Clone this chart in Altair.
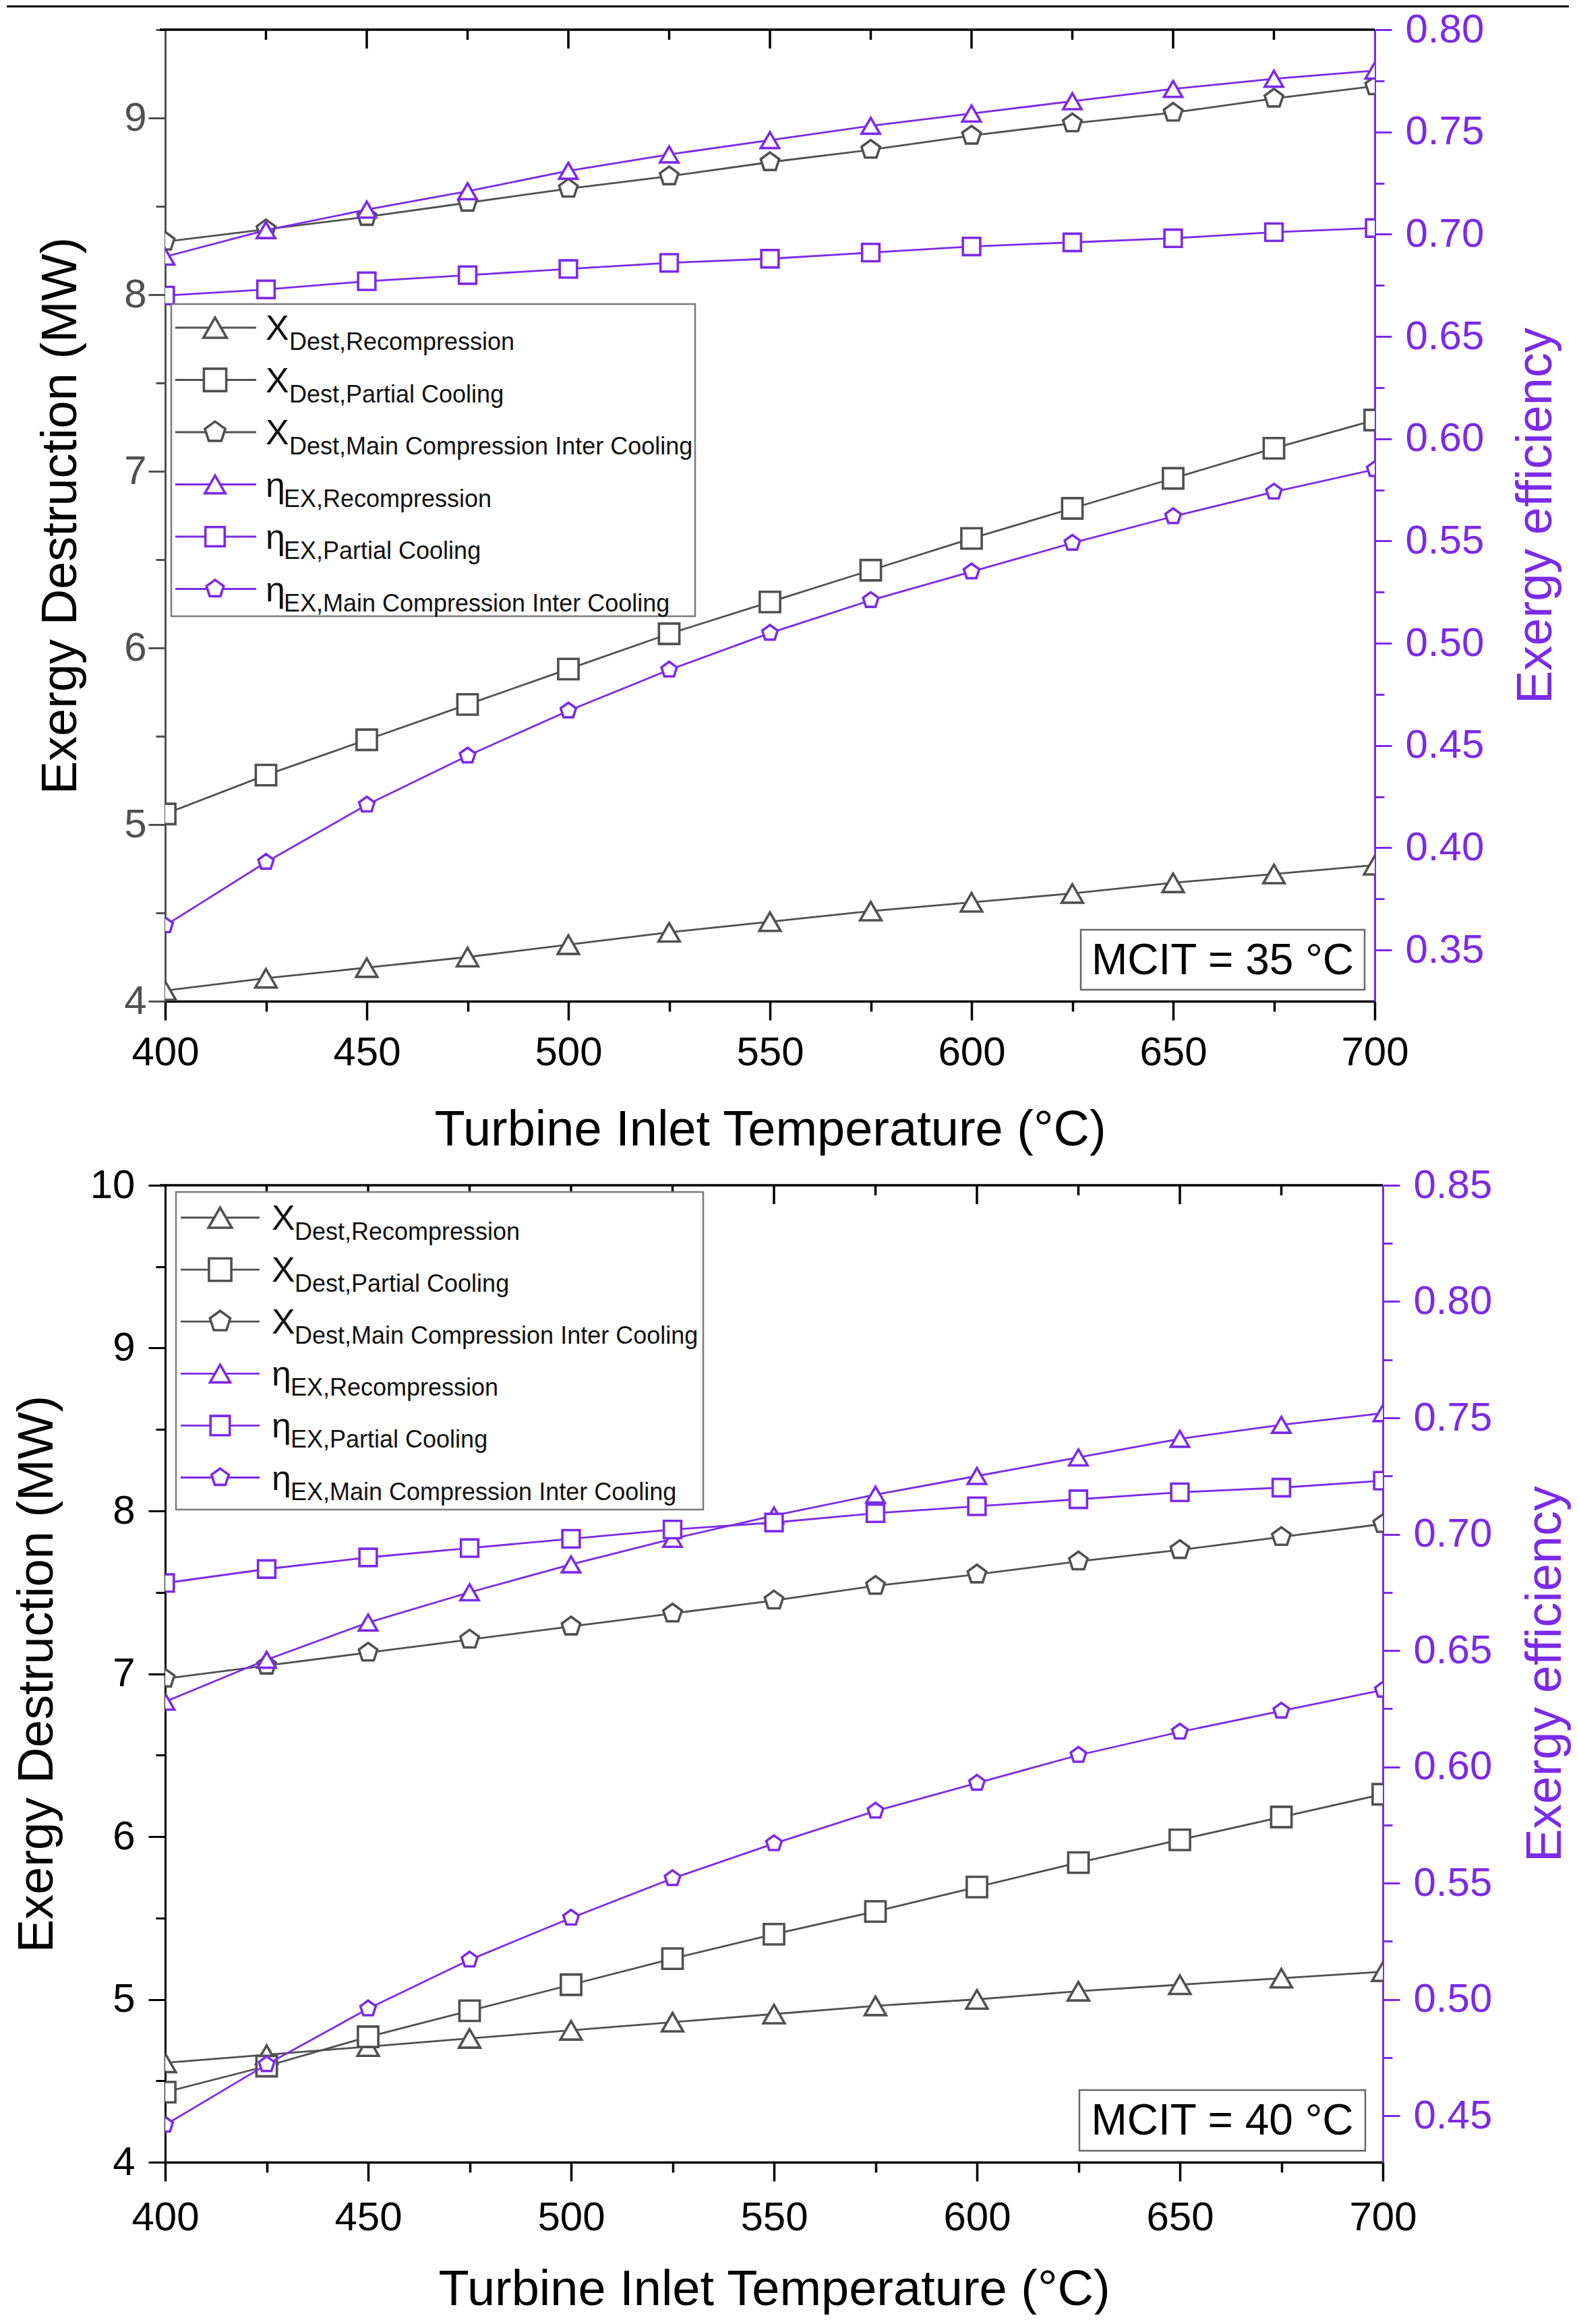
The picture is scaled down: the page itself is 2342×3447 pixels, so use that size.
import altair as alt
import pandas as pd

# ---------------- data ----------------
TIT = [400, 425, 450, 475, 500, 525, 550, 575, 600, 625, 650, 675, 700]

KEYS = ["XR", "XP", "XM", "ER", "EP", "EM"]
SIDES = ["L", "L", "L", "R", "R", "R"]
LEG_MAIN = ["X", "X", "X", "η", "η", "η"]
LEG_SUB = ["Dest,Recompression", "Dest,Partial Cooling", "Dest,Main Compression Inter Cooling",
           "EX,Recompression", "EX,Partial Cooling", "EX,Main Compression Inter Cooling"]
MCIT_LABELS = ["MCIT = 35 °C", "MCIT = 40 °C"]

# MCIT = 35 °C
A_X_RECOMP = [4.06, 4.13, 4.19, 4.25, 4.32, 4.39, 4.45, 4.51, 4.56, 4.61, 4.67, 4.72, 4.77]
A_X_PARTIAL = [5.06, 5.28, 5.48, 5.68, 5.88, 6.08, 6.26, 6.44, 6.62, 6.79, 6.96, 7.13, 7.29]
A_X_MCIC = [8.30, 8.37, 8.44, 8.52, 8.60, 8.67, 8.75, 8.82, 8.90, 8.97, 9.03, 9.11, 9.18]
A_ETA_RECOMP = [0.689, 0.702, 0.712, 0.721, 0.731, 0.739, 0.746, 0.753, 0.759, 0.765, 0.771, 0.776, 0.780]
A_ETA_PARTIAL = [0.670, 0.673, 0.677, 0.680, 0.683, 0.686, 0.688, 0.691, 0.694, 0.696, 0.698, 0.701, 0.703]
A_ETA_MCIC = [0.362, 0.393, 0.421, 0.445, 0.467, 0.487, 0.505, 0.521, 0.535, 0.549, 0.562, 0.574, 0.585]

# MCIT = 40 °C
B_X_RECOMP = [4.61, 4.66, 4.71, 4.76, 4.81, 4.86, 4.91, 4.96, 5.00, 5.05, 5.09, 5.13, 5.17]
B_X_PARTIAL = [4.43, 4.59, 4.77, 4.93, 5.09, 5.25, 5.40, 5.54, 5.69, 5.84, 5.98, 6.12, 6.26]
B_X_MCIC = [6.97, 7.05, 7.13, 7.21, 7.29, 7.37, 7.45, 7.54, 7.61, 7.69, 7.76, 7.84, 7.92]
B_ETA_RECOMP = [0.628, 0.646, 0.662, 0.675, 0.687, 0.698, 0.708, 0.717, 0.725, 0.733, 0.741, 0.747, 0.752]
B_ETA_PARTIAL = [0.679, 0.685, 0.690, 0.694, 0.698, 0.702, 0.705, 0.709, 0.712, 0.715, 0.718, 0.720, 0.723]
B_ETA_MCIC = [0.446, 0.472, 0.496, 0.517, 0.535, 0.552, 0.567, 0.581, 0.593, 0.605, 0.615, 0.624, 0.633]

# axis tick values
A_LEFT_TICKS = [4, 4.5, 5, 5.5, 6, 6.5, 7, 7.5, 8, 8.5, 9, 9.5]
B_LEFT_TICKS = [4, 4.5, 5, 5.5, 6, 6.5, 7, 7.5, 8, 8.5, 9, 9.5, 10]
A_RIGHT_TICKS = [0.35, 0.375, 0.4, 0.425, 0.45, 0.475, 0.5, 0.525, 0.55, 0.575, 0.6,
                 0.625, 0.65, 0.675, 0.7, 0.725, 0.75, 0.775, 0.8]
B_RIGHT_TICKS = [0.45, 0.475, 0.5, 0.525, 0.55, 0.575, 0.6, 0.625, 0.65, 0.675, 0.7,
                 0.725, 0.75, 0.775, 0.8, 0.825, 0.85]
TOP_TICKS = [425, 450, 475, 500, 525, 550, 575, 600, 625, 650, 675]

# ---------------- style ----------------
FONT = "Liberation Sans"
PURPLE = "#7C2AE8"
GRAY = "#505050"
BLACK = "#000000"
PENTAGON = "M0,-1L0.951,-0.309L0.588,0.809L-0.588,0.809L-0.951,-0.309Z"
SHAPES = ["triangle-up", "square", PENTAGON] * 2
SIZES = [1000, 576, 1100] * 2
LEG_SIZES = [1200, 720, 1150] * 2
MSW = 3.6   # marker stroke width
LSW = 2.8   # line stroke width


def long_df(series):
    rows = []
    for k, side, vals in zip(KEYS, SIDES, series):
        for t, v in zip(TIT, vals):
            rows.append({"tit": t, "value": v, "key": k, "side": side})
    return pd.DataFrame(rows)


ONE = pd.DataFrame({"k": [0]})


def panel(series, mcit_text, L, top_line=False):
    W, H = L["W"], L["H"]
    df = long_df(series)
    colors = [L["col"]] * 3 + [PURPLE] * 3
    stroke_enc = alt.Stroke("key:N", scale=alt.Scale(domain=KEYS, range=colors), legend=None)
    shape_enc = alt.Shape("key:N", scale=alt.Scale(domain=KEYS, range=SHAPES), legend=None)
    size_enc = alt.Size("key:N", scale=alt.Scale(domain=KEYS, range=SIZES), legend=None)

    x_enc = alt.X(
        "tit:Q", title="Turbine Inlet Temperature (°C)",
        scale=alt.Scale(domain=[400, 700], nice=False, zero=False),
        axis=alt.Axis(
            values=TIT, format="d",
            labelExpr="datum.value % 50 === 0 ? datum.label : ''",
            tickSize={"condition": {"test": "datum.value % 50 !== 0", "value": 15}, "value": 28},
            tickWidth=3.5, tickColor=BLACK, domainColor=BLACK, domainWidth=3.5,
            labelColor=BLACK, labelFont=FONT, labelFontSize=60, labelPadding=L["xpad"],
            labelFlush=False, labelOverlap=False,
            titleFont=FONT, titleFontSize=74, titleFontWeight="normal", titleColor=BLACK,
            titlePadding=L["xtpad"], grid=False,
        ),
    )
    left_y = alt.Y(
        "value:Q", title="Exergy Destruction (MW)",
        scale=alt.Scale(domain=L["ldom"], nice=False, zero=False),
        axis=alt.Axis(
            orient="left", values=L["lticks"],
            labelExpr="datum.value % 1 === 0 ? format(datum.value, 'd') : ''",
            tickSize={"condition": {"test": "datum.value % 1 !== 0", "value": 14}, "value": 25},
            tickWidth=3, tickColor=L["col"], domainColor=L["col"], domainWidth=3,
            labelColor=L["col"], labelFont=FONT, labelFontSize=60, labelPadding=L["lpad"],
            labelOverlap=False, labelFlush=False,
            titleFont=FONT, titleFontSize=74, titleFontWeight="normal", titleColor=BLACK,
            titlePadding=L["ltpad"], grid=False,
        ),
    )
    right_y = alt.Y(
        "value:Q", title="Exergy efficiency",
        scale=alt.Scale(domain=L["rdom"], nice=False, zero=False),
        axis=alt.Axis(
            orient="right", values=L["rticks"],
            labelExpr="round(datum.value * 1000) % 50 === 0 ? format(datum.value, '.2f') : ''",
            tickSize={"condition": {"test": "round(datum.value * 1000) % 50 !== 0", "value": 14}, "value": 25},
            tickWidth=3, tickColor=PURPLE, domainColor=PURPLE, domainWidth=3,
            labelColor=PURPLE, labelFont=FONT, labelFontSize=60, labelPadding=20,
            labelOverlap=False, labelFlush=False,
            titleFont=FONT, titleFontSize=74, titleFontWeight="normal", titleColor=PURPLE,
            titleAngle=270, titleBaseline="top", titlePadding=L["rtpad"], grid=False,
        ),
    )

    base = alt.Chart(df)
    left_layer = alt.layer(
        base.mark_line(strokeWidth=LSW, clip=True).encode(x=x_enc, y=left_y, stroke=stroke_enc),
        base.mark_point(filled=True, fill="white", strokeWidth=MSW, opacity=1, clip=True).encode(
            x=x_enc, y=left_y, stroke=stroke_enc, shape=shape_enc, size=size_enc),
    ).transform_filter("datum.side === 'L'")
    right_layer = alt.layer(
        base.mark_line(strokeWidth=LSW, clip=True).encode(x=x_enc, y=right_y, stroke=stroke_enc),
        base.mark_point(filled=True, fill="white", strokeWidth=MSW, opacity=1, clip=True).encode(
            x=x_enc, y=right_y, stroke=stroke_enc, shape=shape_enc, size=size_enc),
    ).transform_filter("datum.side === 'R'")

    # frame top border with inward ticks
    ticks_df = pd.DataFrame({"tit": TOP_TICKS})
    top_border = alt.Chart(ONE).mark_rule(color=BLACK, strokeWidth=3.5).encode(
        x=alt.value(-8), x2=alt.value(W), y=alt.value(0))
    top_major = alt.Chart(ticks_df).transform_filter("datum.tit % 50 === 0").mark_rule(
        color=BLACK, strokeWidth=3.5).encode(x=x_enc, y=alt.value(0), y2=alt.value(28))
    top_minor = alt.Chart(ticks_df).transform_filter("datum.tit % 50 !== 0").mark_rule(
        color=BLACK, strokeWidth=3.5).encode(x=x_enc, y=alt.value(0), y2=alt.value(15))

    # custom legend (with subscripts)
    leg_df = pd.DataFrame({"row": list(range(6)), "key": KEYS, "main": LEG_MAIN, "sub": LEG_SUB})
    row_y = alt.Y("row:Q", scale=alt.Scale(domain=[0, 5], range=[L["ly0"], L["ly5"]]), axis=None)
    bx0, by0, bx1, by1 = L["lbox"]
    leg_box = alt.Chart(ONE).mark_rect(fill="white", stroke="#7a7a7a", strokeWidth=2.5).encode(
        x=alt.value(bx0), x2=alt.value(bx1), y=alt.value(by0), y2=alt.value(by1))
    leg = alt.Chart(leg_df)
    leg_line = leg.mark_rule(strokeWidth=LSW).encode(
        x=alt.value(L["lline"][0]), x2=alt.value(L["lline"][1]), y=row_y, stroke=stroke_enc)
    leg_sym = leg.mark_point(filled=True, fill="white", strokeWidth=MSW, opacity=1).encode(
        x=alt.value(L["lsym"]), y=row_y, stroke=stroke_enc, shape=shape_enc,
        size=alt.Size("key:N", scale=alt.Scale(domain=KEYS, range=LEG_SIZES), legend=None))
    leg_main = leg.mark_text(align="left", baseline="alphabetic", dy=18, font=FONT,
                             fontSize=52, color="#111111").encode(
        x=alt.value(L["lmain"]), y=row_y, text="main:N")
    leg_sub_x = leg.transform_filter("datum.main === 'X'").mark_text(
        align="left", baseline="alphabetic", dy=33, font=FONT, fontSize=36, color="#111111").encode(
        x=alt.value(L["lsubx"]), y=row_y, text="sub:N")
    leg_sub_e = leg.transform_filter("datum.main !== 'X'").mark_text(
        align="left", baseline="alphabetic", dy=33, font=FONT, fontSize=36, color="#111111").encode(
        x=alt.value(L["lsube"]), y=row_y, text="sub:N")
    legend = alt.layer(leg_line, leg_sym, leg_main, leg_sub_x, leg_sub_e)

    mx0, my0, mx1, my1 = L["mbox"]
    m_box = alt.Chart(ONE).mark_rect(fill="white", stroke="#666666", strokeWidth=2.5).encode(
        x=alt.value(mx0), x2=alt.value(mx1), y=alt.value(my0), y2=alt.value(my1))
    m_text = alt.Chart(ONE).mark_text(text=mcit_text, font=FONT, fontSize=64, color=BLACK,
                                      align="center", baseline="middle").encode(
        x=alt.value((mx0 + mx1) / 2), y=alt.value((my0 + my1) / 2 + 2))

    layers = []
    if top_line:
        layers.append(alt.Chart(ONE).mark_rule(color=BLACK, strokeWidth=3).encode(
            x=alt.value(-235), x2=alt.value(W + 288), y=alt.value(-34.5)))
    layers += [top_border, top_major, top_minor, left_layer, right_layer, leg_box, legend, m_box, m_text]
    return alt.layer(*layers).resolve_scale(y="independent", size="independent").properties(
        width=W, height=H)


TOP = dict(W=1794, H=1441, col=GRAY, ldom=[4, 9.5], rdom=[0.325, 0.80],
           lticks=A_LEFT_TICKS, rticks=A_RIGHT_TICKS, lpad=3, ltpad=55, rtpad=42,
           xpad=19, xtpad=49,
           lbox=(9, 407, 786, 870), ly0=442, ly5=829.5, lline=(15, 135), lsym=74,
           lmain=149, lsubx=184, lsube=176, mbox=(1358, 1335, 1779, 1424))
BOT = dict(W=1806, H=1449, col=BLACK, ldom=[4, 10], rdom=[0.43, 0.85],
           lticks=B_LEFT_TICKS, rticks=B_RIGHT_TICKS, lpad=20, ltpad=40, rtpad=44,
           xpad=25, xtpad=41,
           lbox=(16, 10, 798, 481), ly0=48, ly5=433.5, lline=(23, 140), lsym=81.5,
           lmain=158, lsubx=192, lsube=186, mbox=(1356, 1342, 1780, 1432))

top = panel([A_X_RECOMP, A_X_PARTIAL, A_X_MCIC, A_ETA_RECOMP, A_ETA_PARTIAL, A_ETA_MCIC],
            MCIT_LABELS[0], TOP, top_line=True)
bottom = panel([B_X_RECOMP, B_X_PARTIAL, B_X_MCIC, B_ETA_RECOMP, B_ETA_PARTIAL, B_ETA_MCIC],
               MCIT_LABELS[1], BOT)

chart = alt.vconcat(top, bottom, spacing=273, bounds="flush").properties(
    padding={"left": 0, "top": 0, "right": 0, "bottom": 0}
).configure_view(stroke=None)

chart.save("out.html", embed_options={"renderer": "svg", "actions": False})
